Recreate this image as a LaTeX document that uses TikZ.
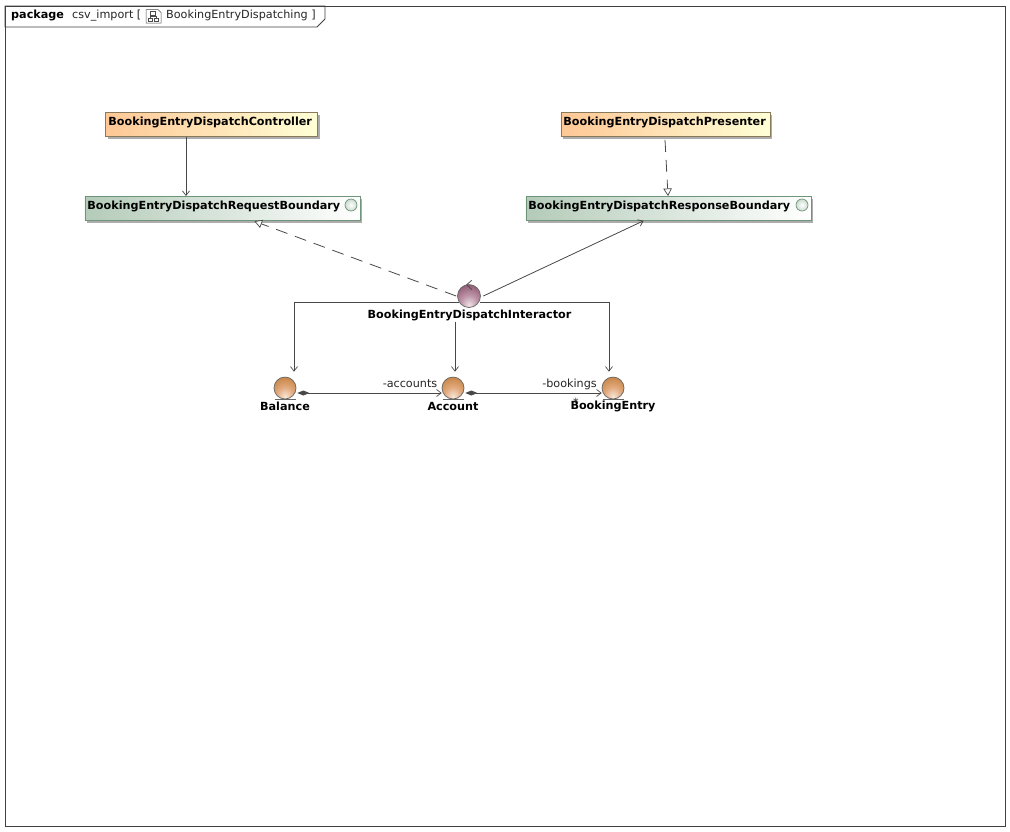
\documentclass[tikz,border=0pt]{standalone}
\usepackage{fontspec}
\setmainfont{DejaVu Sans}
\usetikzlibrary{arrows.meta,shadows}
\definecolor{lineC}{HTML}{484848}
\definecolor{orangeL}{HTML}{FFC795}
\definecolor{yellowR}{HTML}{FFFFD6}
\definecolor{orangeB}{HTML}{8A7A5C}
\definecolor{greenL}{HTML}{B4CBB9}
\definecolor{greenB}{HTML}{6E9479}
\definecolor{ballA}{HTML}{F8E8DA}
\definecolor{ballB}{HTML}{E2AA7E}
\definecolor{ballC}{HTML}{C98749}
\definecolor{ctrlA}{HTML}{EFE3E8}
\definecolor{ctrlB}{HTML}{BE95A8}
\definecolor{ctrlC}{HTML}{925F78}
\pgfdeclareradialshading{ballorange}{\pgfpoint{0bp}{-20bp}}{color(0bp)=(ballA);color(18bp)=(ballB);color(36bp)=(ballC);color(90bp)=(ballC)}
\pgfdeclareradialshading{ballpurple}{\pgfpoint{0bp}{-20bp}}{color(0bp)=(ctrlA);color(18bp)=(ctrlB);color(36bp)=(ctrlC);color(90bp)=(ctrlC)}
\tikzset{
  x=1pt,y=-1pt,
  every node/.style={font=\fontsize{11.2}{13}\selectfont,inner sep=0pt},
  classbox/.style={draw,line width=0.8pt,anchor=north west,minimum height=24pt,inner sep=0pt,
    drop shadow={shadow xshift=2.5pt,shadow yshift=-2.5pt,fill=black!32,opacity=1}},
  implbox/.style={classbox,draw=orangeB,left color=orangeL,right color=yellowR},
  boundbox/.style={classbox,draw=greenB,left color=greenL,right color=white},
  lollipop/.style={circle,draw=greenB,line width=0.7pt,inner color=white,outer color=greenL!70,minimum size=12pt},
  ball/.style={circle,draw=black!60,line width=0.7pt,minimum size=22pt,shading=ballorange},
  ctrlball/.style={circle,draw=black!60,line width=0.7pt,minimum size=23pt,shading=ballpurple},
  ballname/.style={font=\fontsize{11.2}{13}\selectfont\bfseries,text=black},
  conn/.style={draw=lineC,line width=0.8pt},
  openarrow/.style={conn,-{Straight Barb[length=4.5pt,width=7pt,line width=0.7pt]}},
  realize/.style={conn,dash pattern=on 12pt off 8pt,-{Triangle[open,fill=white,length=7.5pt,width=8.5pt,line width=0.7pt,sep=0pt]}},
  compose/.style={conn,{Diamond[fill=lineC,length=12pt,width=5pt]}-{Straight Barb[length=4.5pt,width=7pt,line width=0.7pt]}},
  rolelabel/.style={text=black!85}
}
\begin{document}
\begin{tikzpicture}
\useasboundingbox (0,0) rectangle (1010,831);
\fill[white] (0,0) rectangle (1010,831);
% frame
\draw[black!75,line width=0.8pt] (5,6) rectangle (1005,826);
\draw[black!75,line width=0.8pt] (5,6) -- (325,6) -- (325,19) -- (317,27) -- (5,27) -- cycle;
\node[anchor=base west,font=\fontsize{11.2}{13}\selectfont\bfseries] (tabkw) at (11,18) {package};
\node[anchor=base west,text=black!85] (tabpkg) at (72,18) {csv\_import [};
\node[anchor=base west,text=black!85] (tabname) at (166,18) {BookingEntryDispatching ]};
% package icon
\draw[black!70,line width=0.5pt,fill=white] (146,9.5) -- (158,9.5) -- (161,12.5) -- (161,23) -- (146,23) -- cycle;
\draw[black!70,line width=0.5pt] (150.5,11.5) rectangle (155.5,15);
\draw[black!70,line width=0.5pt] (148,18) rectangle (152,21.5);
\draw[black!70,line width=0.5pt] (154.5,18) rectangle (158.5,21.5);
\draw[black!70,line width=0.5pt] (153,15) -- (153,16.5) (150,18) -- (150,16.5) -- (156.5,16.5) -- (156.5,18);
% boxes
\node[implbox,minimum width=212pt] (controller) at (105,112) {\makebox[212pt][l]{\hspace{3pt}\raisebox{6pt}{\bfseries BookingEntryDispatchController}}};
\node[implbox,minimum width=209pt] (presenter) at (560.5,112) {\makebox[209pt][l]{\hspace{2.5pt}\raisebox{6pt}{\bfseries BookingEntryDispatchPresenter}}};
\node[boundbox,minimum width=275pt] (reqbound) at (84.5,196) {\makebox[275pt][l]{\hspace{2.5pt}\raisebox{6pt}{\bfseries BookingEntryDispatchRequestBoundary}}};
\node[boundbox,minimum width=285pt] (respbound) at (525.5,196) {\makebox[285pt][l]{\hspace{2.5pt}\raisebox{6pt}{\bfseries BookingEntryDispatchResponseBoundary}}};
\node[lollipop] (reqlol) at (351,205) {};
\node[lollipop] (resplol) at (802,205) {};
% interactor
\node[ctrlball] (inter) at (469,296) {};
\draw[lineC,line width=0.7pt] ([shift={(2.7pt,3.8pt)}]inter.north) -- ([shift={(-2.3pt,-0.5pt)}]inter.north) -- ([shift={(2.7pt,-5.5pt)}]inter.north);
\node[ballname] (intername) at (469.5,315) {BookingEntryDispatchInteractor};
% entities
\node[ball] (balance) at (285,388) {};
\node[ball] (account) at (453,388) {};
\node[ball] (entry) at (613,388) {};
\draw[black!60,line width=0.8pt] ([xshift=-10.5pt]balance.south) -- ([xshift=10.5pt]balance.south);
\draw[black!60,line width=0.8pt] ([xshift=-10.5pt]account.south) -- ([xshift=10.5pt]account.south);
\draw[black!60,line width=0.8pt] ([xshift=-10.5pt]entry.south) -- ([xshift=10.5pt]entry.south);
\node[ballname] (balancename) at (285,406) {Balance};
\node[ballname] (accountname) at (453,406) {Account};
\node[ballname] (entryname) at (613,406) {BookingEntry};
\node[rolelabel] (accrole) at (410,384) {-accounts};
\node[rolelabel] (bookrole) at (569.5,384) {-bookings};
\node[rolelabel] (star) at (576,402.5) {*};
% connectors
\draw[openarrow] ([xshift=81pt]controller.south west) -- ([xshift=81pt]controller.south west |- reqbound.north);
\draw[realize] ([xshift=104.5pt,yshift=-3pt]presenter.south west) -- ([xshift=107.5pt]presenter.south west |- respbound.north);
\draw[realize] ([xshift=-1pt]inter.west) -- ([xshift=170pt,yshift=-0.5pt]reqbound.south west);
\draw[openarrow] ([xshift=2.5pt]inter.east) -- ([xshift=118pt]respbound.south west);
\draw[openarrow] ([shift={(-10pt,-6pt)}]inter.center) -| ([shift={(9pt,5pt)}]balance.north);
\draw[openarrow] ([shift={(11pt,-6pt)}]inter.center) -| ([shift={(-4pt,5pt)}]entry.north);
\draw[openarrow] ([xshift=-14pt,yshift=-1pt]inter.center |- intername.south) -- ([shift={(2pt,5pt)}]account.north);
\draw[compose] ([xshift=1pt,yshift=-5pt]balance.east) -- ([yshift=-5pt]account.west);
\draw[compose] ([xshift=1pt,yshift=-5pt]account.east) -- ([yshift=-5pt]entry.west);
\end{tikzpicture}
\end{document}
